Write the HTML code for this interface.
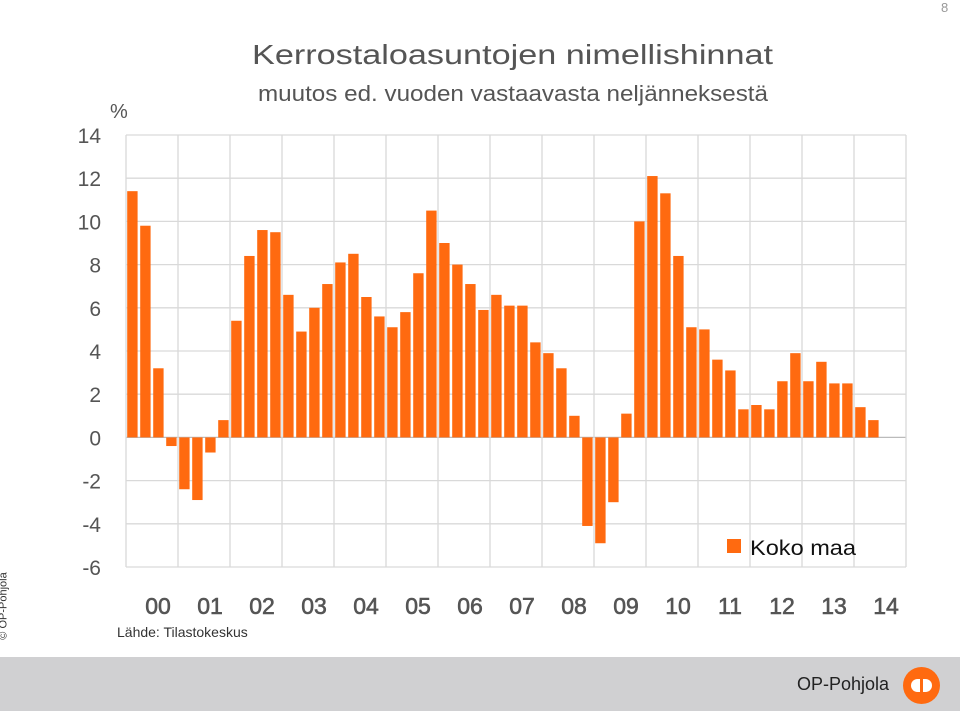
<!DOCTYPE html>
<html><head><meta charset="utf-8"><style>
body{margin:0;width:960px;height:711px;background:#fff;overflow:hidden;font-family:"Liberation Sans",sans-serif;position:relative}
.t{position:absolute;white-space:nowrap}
</style></head><body>
<div class="t" style="left:941px;top:0px;font-size:13px;color:#999">8</div>
<div class="t" style="left:110px;top:101px;font-size:20px;color:#555">%</div>
<div class="t" style="left:-30px;top:600px;font-size:11px;color:#333;transform:rotate(-90deg);transform-origin:center">© OP-Pohjola</div>
<div class="t" style="left:117px;top:624px;font-size:14px;color:#333">Lähde: Tilastokeskus</div>
<div style="position:absolute;left:0;top:657px;width:960px;height:54px;background:#d0d0d2"></div>
<div class="t" style="left:797px;top:674px;font-size:18px;color:#222">OP-Pohjola</div>
<div style="position:absolute;left:903px;top:667px;width:37px;height:37px;border-radius:50%;background:#ff6a10"><div style="position:absolute;left:8px;top:12px;width:21px;height:13px;border-radius:7px;background:#fff"></div><div style="position:absolute;left:17px;top:7px;width:3px;height:23px;background:#ff6a10"></div></div>
<svg id="chart" width="960" height="711" style="position:absolute;left:0;top:0">
<text x="252" y="64" font-size="28" fill="#555" font-family="Liberation Sans, sans-serif" textLength="521" lengthAdjust="spacingAndGlyphs">Kerrostaloasuntojen nimellishinnat</text>
<text x="258" y="101" font-size="22" fill="#555" font-family="Liberation Sans, sans-serif" textLength="510" lengthAdjust="spacingAndGlyphs">muutos ed. vuoden vastaavasta neljänneksestä</text>
</svg>
<script>
const years=["00","01","02","03","04","05","06","07","08","09","10","11","12","13","14"];
const values=[11.4,9.8,3.2,-0.4,-2.4,-2.9,-0.7,0.8,5.4,8.4,9.6,9.5,6.6,4.9,6.0,7.1,8.1,8.5,6.5,5.6,5.1,5.8,7.6,10.5,9.0,8.0,7.1,5.9,6.6,6.1,6.1,4.4,3.9,3.2,1.0,-4.1,-4.9,-3.0,1.1,10.0,12.1,11.3,8.4,5.1,5.0,3.6,3.1,1.3,1.5,1.3,2.6,3.9,2.6,3.5,2.5,2.5,1.4,0.8];
const yTicks=[14,12,10,8,6,4,2,0,-2,-4,-6];
const NS="http://www.w3.org/2000/svg",svg=document.getElementById("chart");
const x0=126,x1=906,yMin=-6,yMax=14,pTop=135,pBot=567;
const y=v=>pBot-(v-yMin)/(yMax-yMin)*(pBot-pTop);
const qw=(x1-x0)/(years.length*4);
const x=i=>x0+i*qw;
function mk(t,a){const e=document.createElementNS(NS,t);for(const k in a)e.setAttribute(k,a[k]);svg.appendChild(e);return e;}
yTicks.forEach(v=>{
 const l=mk("line",{x1:x0,x2:x1,y1:y(v),y2:y(v),stroke:v===0?"#bbb":"#d9d9d9","stroke-width":1.3});
 
 
 const t=mk("text",{x:101,y:y(v)+8,"text-anchor":"end","font-size":21,fill:"#555","font-family":"Liberation Sans, sans-serif"});
 t.textContent=v;
 
 
});
for(let k=0;k<=years.length;k++){
 const l=mk("line",{x1:x(k*4),x2:x(k*4),y1:pTop,y2:pBot,stroke:"#d9d9d9","stroke-width":1.3});
 
 
}
years.forEach((s,k)=>{
 const t=mk("text",{x:x(k*4+2)+6,y:614,"text-anchor":"middle","font-size":23,fill:"#555","font-family":"Liberation Sans, sans-serif","stroke":"#555","stroke-width":0.6});
 t.textContent=s;
 
 
});
values.forEach((v,i)=>{
 const r=mk("rect",{x:x(i)+1.2,width:qw-2.6,y:Math.min(y(v),y(0)),height:Math.abs(y(v)-y(0)),fill:"#ff6a10"});
 
 
});
const lr=mk("rect",{x:727,y:539,width:14,height:14,fill:"#ff6a10"});


const lt=mk("text",{x:750,y:555,"font-size":21,fill:"#111","font-family":"Liberation Sans, sans-serif",textLength:106,lengthAdjust:"spacingAndGlyphs"});
lt.textContent="Koko maa";


</script>
</body></html>
